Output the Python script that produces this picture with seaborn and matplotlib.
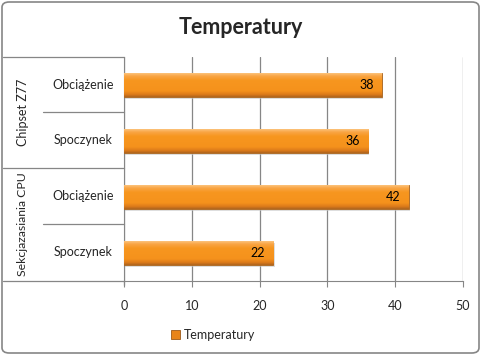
import matplotlib
matplotlib.use("Agg")
import matplotlib.pyplot as plt
import seaborn as sns
import pandas as pd
import numpy as np
from matplotlib.patches import FancyBboxPatch, Patch
from matplotlib.lines import Line2D
from matplotlib.colors import LinearSegmentedColormap

# data
groups = ["Chipset Z77", "Chipset Z77", "Sekcjazasiania CPU", "Sekcjazasiania CPU"]
states = ["Obciążenie", "Spoczynek", "Obciążenie", "Spoczynek"]
temps = [38, 36, 42, 22]
series_name = "Temperatury"
x_ticks = [0, 10, 20, 30, 40, 50]

df = pd.DataFrame({"group": groups, "state": states, "temp": temps})
df["key"] = df["group"] + "|" + df["state"]

sns.set_style("white")
plt.rcParams["font.family"] = ["Lato", "DejaVu Sans"]

W, H = 481, 355
fig = plt.figure(figsize=(W / 100, H / 100), dpi=100)
ax = fig.add_axes([124 / W, 1 - 281 / H, (463 - 124) / W, (281 - 57) / H])

sns.barplot(data=df, x="temp", y="key", order=list(df["key"]), color="#F7961F",
            width=0.42, ax=ax, edgecolor="#A8621C", linewidth=0.6, zorder=3)

# gradient + shadow on each bar
cmap = LinearSegmentedColormap.from_list(
    "bar", [(0, "#FCC27A"), (0.12, "#F9A544"), (0.3, "#F7961F"), (0.75, "#F5921C"),
            (0.9, "#DC7A1A"), (1, "#B0661E")])
grad = np.linspace(0, 1, 64).reshape(-1, 1)
for p in ax.patches:
    x0, y0 = p.get_x(), p.get_y()
    w, h = p.get_width(), p.get_height()
    sh = FancyBboxPatch((x0 + 0.2, y0 + 0.04), w, h, boxstyle="square,pad=0",
                        facecolor="#C8C8C8", edgecolor="none", alpha=0.6, zorder=2)
    ax.add_patch(sh)
    im = ax.imshow(grad, cmap=cmap, aspect="auto", extent=(x0, x0 + w, y0 + h, y0),
                   origin="upper", zorder=3.5)
    im.set_clip_path(p)

for i, v in enumerate(temps):
    ax.text(v - 1.2, i, str(v), ha="right", va="center", fontsize=9, color="black", zorder=5)

ax.set_xlim(0, 50)
ax.set_ylim(3.5, -0.5)
ax.set_xticks(x_ticks)
ax.set_xticklabels([str(t) for t in x_ticks], fontsize=9)
ax.set_yticks([])
ax.set_xlabel("")
ax.set_ylabel("")
ax.xaxis.grid(True, color="#868686", linewidth=0.9, zorder=0)
ax.set_axisbelow(True)
for s in ["top", "right"]:
    ax.spines[s].set_visible(False)
ax.spines["left"].set_color("#868686")
ax.spines["bottom"].set_color("#868686")
ax.tick_params(axis="x", direction="out", length=4, color="#868686", pad=10, bottom=True)

# category labels on the left
fx = lambda px: px / W
fy = lambda py: 1 - py / H
line_kw = dict(color="#868686", linewidth=0.9, transform=fig.transFigure)
for py in [57, 168, 281]:
    fig.add_artist(Line2D([fx(3), fx(124)], [fy(py), fy(py)], **line_kw))
for py in [112, 224]:
    fig.add_artist(Line2D([fx(43), fx(124)], [fy(py), fy(py)], **line_kw))
fig.add_artist(Line2D([fx(124), fx(124)], [fy(281), fy(285)], **line_kw))

row_y = [85, 140, 196, 252]
for py, s in zip(row_y, states):
    fig.text(fx(83), fy(py), s, ha="center", va="center", fontsize=9)
fig.text(fx(23), fy(112), groups[0], rotation=90, ha="center", va="center", fontsize=9)
fig.text(fx(23), fy(224), groups[2], rotation=90, ha="center", va="center", fontsize=8.8)

fig.text(0.5, fy(28), "Temperatury", ha="center", va="center", fontsize=15.5, fontweight="bold")

handle = Patch(facecolor="#E8841A", edgecolor="#9C5A1A", linewidth=0.6)
fig.legend([handle], [series_name], loc="center left", bbox_to_anchor=(fx(160), fy(335)),
           frameon=False, fontsize=9, handlelength=0.7, handleheight=0.7, handletextpad=0.3)

border = FancyBboxPatch((fx(2), fy(353)), fx(477), 351 / H, boxstyle="round,pad=0,rounding_size=0.015",
                        transform=fig.transFigure, facecolor="none", edgecolor="#868686", linewidth=1.2)
fig.add_artist(border)

fig.savefig("out.png", dpi=100)
